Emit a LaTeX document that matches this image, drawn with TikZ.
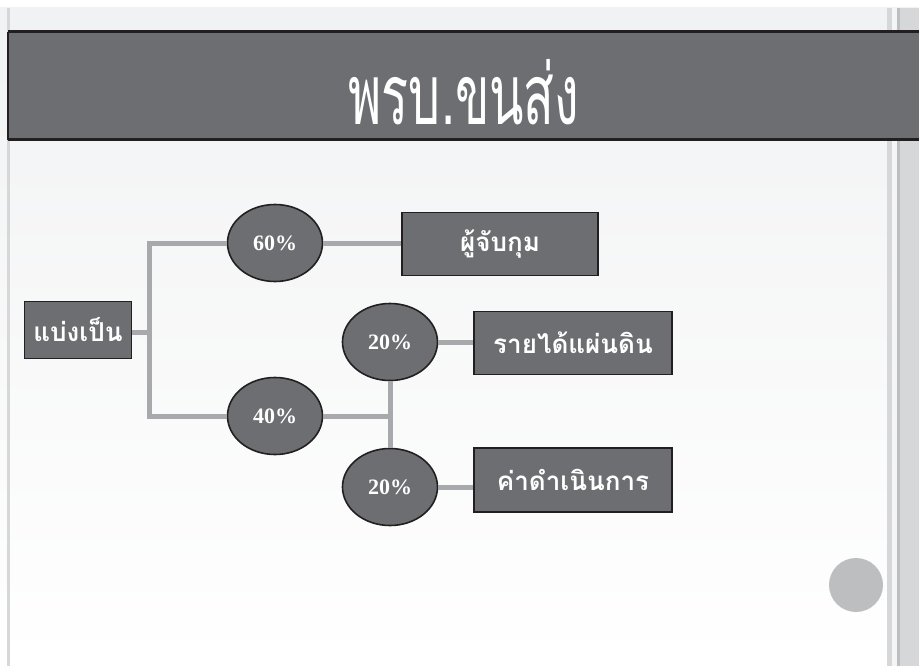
\documentclass[tikz,border=0pt]{standalone}
\usepackage{fontspec}
\usetikzlibrary{shapes.geometric}
\setmainfont{Liberation Serif}
\newfontfamily\thaifont[Script=Thai]{Loma}
\newfontfamily\thaititle[Script=Thai,FakeStretch=0.6]{Loma}
\definecolor{boxgray}{HTML}{6D6E71}
\definecolor{edgecol}{HTML}{231F20}
\definecolor{conncol}{HTML}{A7A9AC}
\definecolor{bgtop}{HTML}{F1F2F3}
\definecolor{barlight}{HTML}{D6D7D9}
\definecolor{bardark}{HTML}{BCBEC0}
\definecolor{dotgray}{HTML}{BCBEC0}
\begin{document}
\begin{tikzpicture}[x=1pt,y=-1pt,
  box/.style={rectangle,draw=edgecol,line width=1.6pt,fill=boxgray,text=white,
    font=\thaifont\bfseries\fontsize{26}{30}\selectfont,inner sep=0pt},
  pct/.style={ellipse,draw=edgecol,line width=1.6pt,fill=boxgray,text=white,
    font=\bfseries\fontsize{22}{24}\selectfont,minimum width=95pt,minimum height=77pt,inner sep=0pt},
  conn/.style={draw=conncol,line width=5pt}]
\useasboundingbox (0,0) rectangle (919,666);
% background
\fill[white] (0,0) rectangle (919,666);
\shade[top color=bgtop,bottom color=white] (0,8) rectangle (919,666);
\fill[barlight] (7,8) rectangle (10,666);
\fill[barlight] (887,8) rectangle (892,666);
\fill[white!96!black] (892,8) rectangle (897,666);
\fill[bardark] (897,8) rectangle (900,666);
\fill[barlight] (900,8) rectangle (919,666);
% title band
\fill[boxgray] (8,32) rectangle (919,140);
\draw[edgecol,line width=3pt] (8,32) -- (919,32);
\draw[edgecol,line width=3pt] (8,140) -- (919,140);
\draw[edgecol,line width=1.5pt] (8,32) -- (8,140);
\node[text=white,font=\thaititle\fontsize{84}{90}\selectfont] (title) at (464,92) {พรบ.ขนส่ง};
% nodes
\node[box,minimum width=107pt,minimum height=57pt] (split) at (78,330) {แบ่งเป็น};
\node[pct] (p60) at (275,243) {60\%};
\node[pct] (p40) at (275,416) {40\%};
\node[pct] (r20) at (390,342) {20\%};
\node[pct] (o20) at (390,487) {20\%};
\node[box,minimum width=196pt,minimum height=63pt] (catch) at (500,244) {ผู้จับกุม};
\node[box,minimum width=198pt,minimum height=63pt] (rev) at (573,343) {รายได้แผ่นดิน};
\node[box,minimum width=198pt,minimum height=64pt] (ops) at (573,480) {ค่าดำเนินการ};
% connectors
\coordinate (jm) at (149,332);
\coordinate (jt) at (149,243);
\coordinate (jb) at (149,416);
\draw[conn] (split.east |- jm) -- (jm);
\draw[conn] (p60.west) -- (jt) -- (jb) -- (p40.west);
\draw[conn] (p60.east) -- (catch.west |- p60.east);
\draw[conn] (p40.east) -- (r20.south |- p40.east);
\draw[conn] (r20.south) -- (o20.north);
\draw[conn] (r20.east) -- (rev.west |- r20.east);
\draw[conn] (o20.east) -- (ops.west |- o20.east);
% dot
\fill[dotgray] (856,585) circle (27);
\end{tikzpicture}
\end{document}
